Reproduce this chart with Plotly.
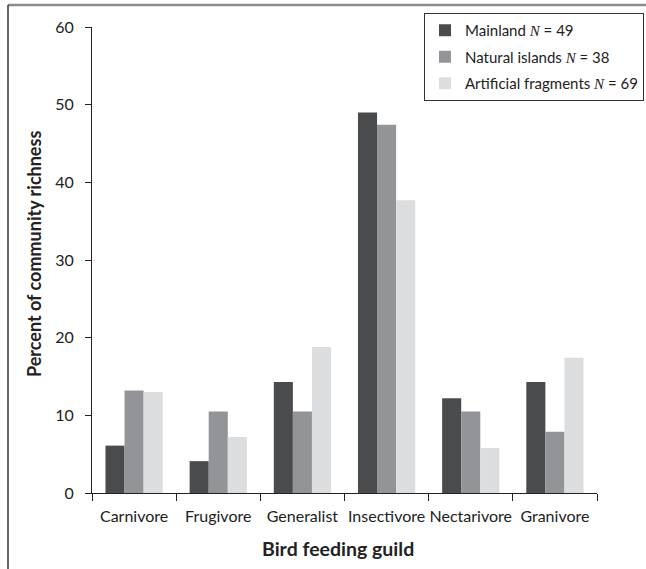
import plotly.graph_objects as go

categories = ["Carnivore", "Frugivore", "Generalist", "Insectivore", "Nectarivore", "Granivore"]
mainland = [6.1, 4.1, 14.3, 49.0, 12.2, 14.3]
natural_islands = [13.2, 10.5, 10.5, 47.4, 10.5, 7.9]
artificial_fragments = [13.0, 7.2, 18.8, 37.7, 5.8, 17.4]
y_ticks = [0, 10, 20, 30, 40, 50, 60]

NS = '<span style="font-family:Liberation Serif;font-style:italic">N</span>'
series = [
    (f"Mainland {NS} = 49", mainland, "#4a4b4d"),
    (f"Natural islands {NS} = 38", natural_islands, "#939497"),
    (f"Artificial fragments {NS} = 69", artificial_fragments, "#dcdddf"),
]

fig = go.Figure()
for i, (name, vals, col) in enumerate(series):
    fig.add_trace(go.Bar(x=categories, y=vals, name=name, legendgroup=f"g{i}",
                         marker=dict(color=col, line=dict(width=0))))

W, H = 646, 569
ml, mr, mt, mb = 92, 49, 27, 76
pw, ph = W - ml - mr, H - mt - mb

def px_x(p):
    return (p - ml) / pw

def px_y(p):
    return (H - mb - p) / ph

font = "Lato, Open Sans, sans-serif"
fig.update_layout(
    width=W, height=H,
    margin=dict(l=ml, r=mr, t=mt, b=mb, autoexpand=False),
    paper_bgcolor="white", plot_bgcolor="white",
    barmode="group", bargap=0.32, bargroupgap=0,
    font=dict(family=font, color="#222", size=15),
    showlegend=True,
    legend=dict(
        x=px_x(424), y=px_y(13), xanchor="left", yanchor="top",
        bordercolor="#333", borderwidth=1, bgcolor="white",
        font=dict(size=15, color="#222"), tracegroupgap=4,
        itemwidth=30,
    ),
    xaxis=dict(
        showline=True, linecolor="#222", linewidth=1,
        ticks="outside", tickson="boundaries", ticklen=7, tickcolor="#222",
        tickfont=dict(size=16, color="#222"), tickangle=0, ticklabelstandoff=9,
        showgrid=False, zeroline=False,
    ),
    yaxis=dict(
        range=[0, 60], tickvals=y_ticks,
        showline=True, linecolor="#222", linewidth=1,
        ticks="outside", ticklen=6, tickcolor="#222", ticklabelstandoff=8,
        tickfont=dict(size=16, color="#222"),
        showgrid=False, zeroline=False,
    ),
    annotations=[
        dict(text="<b>Bird feeding guild</b>", xref="paper", yref="paper",
             x=px_x(338), y=px_y(548), xanchor="center", yanchor="middle",
             showarrow=False, font=dict(size=19.5, color="#222")),
        dict(text="<b>Percent of community richness</b>", xref="paper", yref="paper",
             x=px_x(34), y=px_y(254), xanchor="center", yanchor="middle", textangle=-90,
             showarrow=False, font=dict(size=18, color="#222")),
    ],
    shapes=[
        dict(type="line", xref="paper", yref="paper", x0=px_x(8), x1=px_x(646), y0=px_y(5), y1=px_y(5),
             line=dict(color="#8c8c8c", width=2.5), layer="above"),
        dict(type="line", xref="paper", yref="paper", x0=px_x(8), x1=px_x(8), y0=px_y(5), y1=px_y(569),
             line=dict(color="#333", width=1.5)),
    ],
)

fig.write_html("out.html", config={"displayModeBar": False},
               post_script="document.body.style.margin='0';document.body.style.overflow='hidden';")
